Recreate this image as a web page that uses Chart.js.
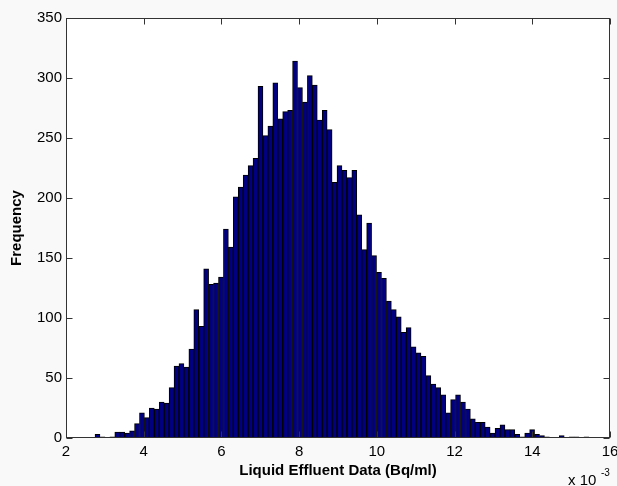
<!DOCTYPE html>
<html>
<head>
<meta charset="utf-8">
<script src="https://cdn.jsdelivr.net/npm/chart.js@4/dist/chart.umd.min.js"></script>
<style>
  html, body { margin: 0; padding: 0; background: #f9f9f9; }
  #wrap { width: 617px; height: 486px; }
</style>
</head>
<body>
<div id="wrap"><canvas id="c" width="617" height="486"></canvas></div>
<script>
// Bin centres (x 10^-3 Bq/ml)
const binCenters = [
  2.8106, 2.9377, 3.0648, 3.1919, 3.3190, 3.4461, 3.5732, 3.7003, 3.8274, 3.9545,
  4.0816, 4.2087, 4.3358, 4.4629, 4.5900, 4.7171, 4.8442, 4.9713, 5.0984, 5.2255,
  5.3526, 5.4797, 5.6068, 5.7339, 5.8610, 5.9881, 6.1152, 6.2423, 6.3694, 6.4965,
  6.6236, 6.7507, 6.8778, 7.0049, 7.1320, 7.2591, 7.3862, 7.5133, 7.6404, 7.7675,
  7.8946, 8.0217, 8.1488, 8.2759, 8.4030, 8.5301, 8.6572, 8.7843, 8.9114, 9.0385,
  9.1656, 9.2927, 9.4198, 9.5469, 9.6740, 9.8011, 9.9282, 10.0553, 10.1824, 10.3095,
  10.4366, 10.5637, 10.6908, 10.8179, 10.9450, 11.0721, 11.1992, 11.3263, 11.4534, 11.5805,
  11.7076, 11.8347, 11.9618, 12.0889, 12.2160, 12.3431, 12.4702, 12.5973, 12.7244, 12.8515,
  12.9786, 13.1057, 13.2328, 13.3599, 13.4870, 13.6141, 13.7412, 13.8683, 13.9954, 14.1225,
  14.2496, 14.3767, 14.5038, 14.6309, 14.7580, 14.8851, 15.0122, 15.1393, 15.2664, 15.3935
];
// Frequency per bin
const frequencies = [
  3, 1, 0, 1, 5, 5, 4, 6, 12, 21,
  17, 25, 24, 30, 29, 42, 60, 62, 59, 74,
  107, 93, 141, 128, 129, 134, 174, 159, 201, 209,
  219, 227, 233, 293, 252, 260, 296, 266, 272, 273,
  314, 292, 280, 302, 294, 265, 273, 257, 213, 227,
  223, 217, 223, 186, 157, 179, 152, 138, 133, 114,
  107, 101, 88, 92, 76, 71, 68, 52, 45, 42,
  36, 21, 32, 36, 30, 24, 16, 13, 13, 9,
  4, 8, 11, 7, 7, 3, 1, 4, 7, 3,
  2, 1, 0, 0, 2, 0, 1, 1, 0, 1
];
const xTicks = [2, 4, 6, 8, 10, 12, 14, 16];
const yTicks = [0, 50, 100, 150, 200, 250, 300, 350];
const xTitle = 'Liquid Effluent Data (Bq/ml)';
const yTitle = 'Frequency';
const xExponent = '-3';

const FONT = "'Liberation Sans', Arial, sans-serif";
const AXIS_COLOR = '#333333';

const bgPlugin = {
  id: 'bg',
  beforeDraw(chart) {
    const {ctx, chartArea: a} = chart;
    ctx.save();
    ctx.fillStyle = '#f9f9f9';
    ctx.fillRect(0, 0, chart.width, chart.height);
    ctx.fillStyle = '#ffffff';
    ctx.fillRect(a.left, a.top, a.right - a.left, a.bottom - a.top);
    ctx.restore();
  }
};

const boxPlugin = {
  id: 'box',
  afterDatasetsDraw(chart) {
    const {ctx, chartArea: a, scales} = chart;
    ctx.save();
    ctx.strokeStyle = AXIS_COLOR;
    ctx.lineWidth = 1;
    const L = Math.round(a.left) + 0.5, R = Math.round(a.right) - 0.5;
    const T = Math.round(a.top) + 0.5, B = Math.round(a.bottom) - 0.5;
    ctx.strokeRect(L, T, R - L, B - T);
    const tl = 6;
    ctx.beginPath();
    yTicks.forEach(v => {
      const y = Math.round(scales.y.getPixelForValue(v)) + 0.5;
      ctx.moveTo(L, y); ctx.lineTo(L + tl, y);
      ctx.moveTo(R, y); ctx.lineTo(R - tl, y);
    });
    xTicks.forEach(v => {
      const x = Math.round(scales.x.getPixelForValue(v)) + 0.5;
      ctx.moveTo(x, B); ctx.lineTo(x, B - tl);
      ctx.moveTo(x, T); ctx.lineTo(x, T + tl);
    });
    ctx.stroke();
    // exponent label
    ctx.fillStyle = '#000';
    ctx.textBaseline = 'alphabetic';
    ctx.textAlign = 'left';
    ctx.font = '15px ' + FONT;
    ctx.fillText('x 10', 568, 485);
    ctx.font = '10px ' + FONT;
    ctx.fillText(xExponent, 601, 476);
    ctx.restore();
  }
};

new Chart(document.getElementById('c'), {
  type: 'bar',
  data: {
    datasets: [{
      data: binCenters.map((x, i) => ({x: x, y: frequencies[i]})),
      backgroundColor: '#000080',
      borderColor: '#000000',
      borderWidth: 1,
      borderSkipped: 'start',
      barPercentage: 1.0,
      categoryPercentage: 1.0
    }]
  },
  options: {
    responsive: false,
    devicePixelRatio: 1,
    animation: false,
    layout: { padding: { left: 0, right: 7, top: 18, bottom: 0 } },
    plugins: { legend: { display: false }, tooltip: { enabled: false } },
    scales: {
      x: {
        type: 'linear',
        offset: false,
        min: 2, max: 16,
        afterBuildTicks(scale) { scale.ticks = xTicks.map(v => ({value: v})); },
        ticks: { color: '#000', font: { family: FONT, size: 15 }, padding: 5, maxRotation: 0, autoSkip: false },
        grid: { display: false, drawTicks: false, offset: false },
        border: { display: false },
        title: { display: true, text: xTitle, color: '#000', font: { family: FONT, size: 15, weight: 'bold' }, padding: { top: 0, bottom: 6 } },
        afterFit(scale) { scale.height = 48; scale.paddingLeft = 0; scale.paddingRight = 0; }
      },
      y: {
        min: 0, max: 350,
        afterBuildTicks(scale) { scale.ticks = yTicks.map(v => ({value: v})); },
        ticks: { color: '#000', font: { family: FONT, size: 15 }, padding: 4, autoSkip: false },
        grid: { display: false, drawTicks: false },
        border: { display: false },
        title: { display: true, text: yTitle, color: '#000', font: { family: FONT, size: 15, weight: 'bold' }, padding: { top: 8, bottom: 0 } },
        afterFit(scale) { scale.width = 66; scale.paddingTop = 0; scale.paddingBottom = 0; }
      }
    }
  },
  plugins: [bgPlugin, boxPlugin]
});
</script>
</body>
</html>
